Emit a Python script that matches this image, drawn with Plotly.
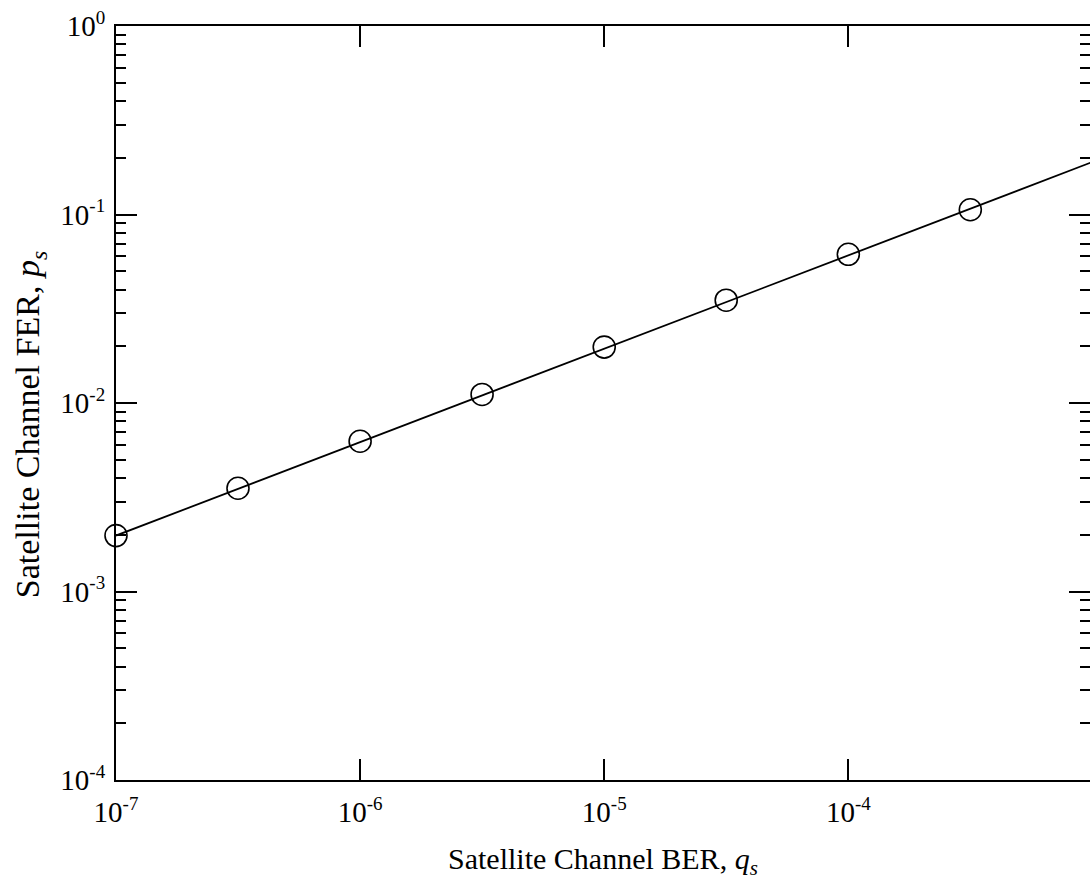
import plotly.graph_objects as go

# data
ber = [1e-7, 3.16e-7, 1e-6, 3.16e-6, 1e-5, 3.16e-5, 1e-4, 3.16e-4]
fer = [0.00198, 0.00353, 0.00627, 0.0111, 0.0198, 0.0351, 0.0615, 0.106]
line_ber = [1e-7, 1e-3]
line_fer = [0.00198, 0.19]

x_exponents = ["-7", "-6", "-5", "-4"]
x_tickvals = [1e-7, 1e-6, 1e-5, 1e-4]
y_exponents = ["-4", "-3", "-2", "-1", "0"]
y_tickvals = [1e-4, 1e-3, 1e-2, 1e-1, 1e0]
y_minor = [m * 10 ** e for e in range(-4, 0) for m in range(2, 10)]

FONT = "Liberation Serif"
SUP = '10<sup><span style="font-size:19px">{}</span></sup>'
x_ticktext = [SUP.format(e) for e in x_exponents]
y_ticktext = [SUP.format(e) for e in y_exponents]

fig = go.Figure()
fig.add_trace(go.Scatter(x=line_ber, y=line_fer, mode="lines",
                         line=dict(color="black", width=1.8), showlegend=False,
                         hoverinfo="skip"))
fig.add_trace(go.Scatter(x=ber, y=fer, mode="markers", yaxis="y2",
                         cliponaxis=False,
                         marker=dict(symbol="circle-open", size=22, color="black",
                                     line=dict(width=1.6, color="black")),
                         showlegend=False))

yr = [-4, 0]
common_y = dict(type="log", range=yr, tickvals=y_tickvals, ticks="inside",
                ticklen=21, tickwidth=2, tickcolor="black",
                minor=dict(tickvals=y_minor, ticks="inside", ticklen=10,
                           tickwidth=2, tickcolor="black", showgrid=False),
                showgrid=False, zeroline=False)

fig.update_layout(
    width=1090, height=889,
    margin=dict(l=116, r=0, t=26, b=109),
    plot_bgcolor="white", paper_bgcolor="white",
    font=dict(family=FONT, size=29, color="black"),
    xaxis=dict(type="log", range=[-7, -3.01], tickvals=x_tickvals, ticktext=x_ticktext,
               ticks="inside", ticklen=21, tickwidth=2, tickcolor="black",
               showline=True, linewidth=2, linecolor="black", mirror="ticks",
               showgrid=False, zeroline=False, ticklabelstandoff=5,
               tickfont=dict(family=FONT, size=29, color="black")),
    yaxis=dict(**common_y, ticktext=y_ticktext, showline=True, linewidth=2,
               linecolor="black", mirror=False, ticklabelstandoff=3,
               tickfont=dict(family=FONT, size=29, color="black")),
    yaxis2=dict(**common_y, overlaying="y", side="right", showline=False,
                showticklabels=False, anchor="x"),
    annotations=[
        dict(text="Satellite Channel BER, <i>q</i><sub><i>s</i></sub>",
             xref="paper", yref="paper", x=0.5, y=-0.108, xanchor="center",
             yanchor="middle", showarrow=False,
             font=dict(family=FONT, size=30, color="black")),
        dict(text="Satellite Channel FER, <i>p</i><sub><i>s</i></sub>",
             xref="paper", yref="paper", x=-0.088, y=0.471, xanchor="center",
             yanchor="middle", textangle=-90, showarrow=False,
             font=dict(family=FONT, size=34, color="black")),
    ],
)

fig.write_html("out.html")
